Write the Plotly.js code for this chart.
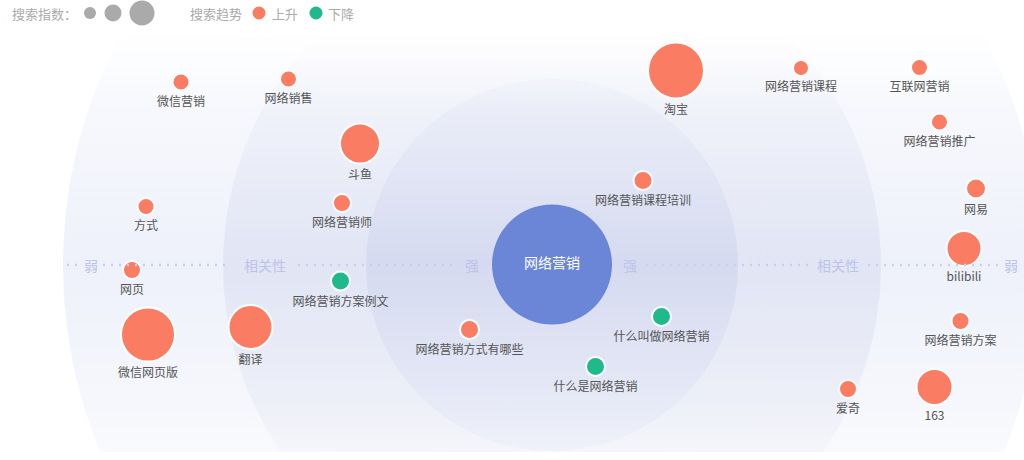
<!DOCTYPE html>
<html><head><meta charset="utf-8">
<script src="https://cdn.plot.ly/plotly-3.0.1.min.js"></script>
<style>html,body{margin:0;padding:0;background:#fff;}#chart{width:1024px;height:460px;}</style>
</head><body><div id="chart"></div>
<script>
// ---- data ----
const keywords = ['微信营销','网络销售','斗鱼','网络营销师','方式','网页','微信网页版','翻译','网络营销方案例文','网络营销方式有哪些','淘宝','网络营销课程培训','网络营销课程','互联网营销','网络营销推广','网易','bilibili','什么叫做网络营销','什么是网络营销','网络营销方案','爱奇','163'];
const posX = [181,288.5,360,342,146,132,148,250.5,340.5,469.5,676,643,801,919.5,939.5,976,964,661.5,595.5,960.5,848,934.5];
const posY = [82,79,143.5,203,206.5,270,334.5,327,281,329.5,70.5,180.5,68,67.5,122,188.5,248.5,316.5,366.5,321,389,387];
const searchIndex = [17,17,40,18,17,18,54,44,19,19,56,19,16,17,17,20,35,19,19,18,18,36];
const trend = ['up','up','up','up','up','up','up','up','down','up','up','up','up','up','up','up','up','down','down','up','up','up'];
const centerWord = '网络营销';
const centerX = 552, centerY = 264.5, centerSize = 120;
const ringRadii = [489, 329, 186];
const ringColors = [[238,241,250],[225,229,244],[213,218,240]];
const axisLabels = ['弱','相关性','强','强','相关性','弱'];
const axisLabelX = [91,265,472,630,838,1011];
const legendIndexSizes = [12,17,25];
const legendIndexX = [90,113,142];
const trendNames = ['上升','下降'];

const UP = '#fa7c62', DOWN = '#20b98c', CENTER = '#6b86d6';
const FONT = '"Noto Sans CJK SC","Microsoft YaHei",sans-serif';

const traces = [];
// rings (decoration)
const gy0 = 30, gy1 = 452;
function stop(y){return (y-gy0)/(gy1-gy0);}
const fadeStops = [[gy0,0],[60,0.15],[110,0.5],[265,1],[400,0.6],[gy1,0.35]];
ringRadii.forEach((r,i)=>{
  const xs=[],ys=[];
  for(let k=0;k<=240;k++){const a=2*Math.PI*k/240;xs.push(centerX+r*Math.cos(a));ys.push(Math.min(gy1,265+r*Math.sin(a)));}
  const c=ringColors[i];
  const cs=fadeStops.map(([y,f])=>[stop(y),'rgb('+c.map(v=>Math.round(255-f*(255-v))).join(',')+')']);
  traces.push({type:'scatter',mode:'lines',x:xs,y:ys,fill:'toself',line:{width:0},
    fillgradient:{type:'vertical',colorscale:cs,start:gy0,stop:gy1},hoverinfo:'skip',showlegend:false});
});
// dotted axis
const segs=[[67,80],[103,230],[298,458],[646,810],[868,1000]];
const shapes=segs.map(s=>({type:'line',x0:s[0],x1:s[1],y0:265,y1:265,line:{color:'#c8cdee',width:2.5,dash:'2px,6px'},layer:'above'}));
// center bubble
traces.push({type:'scatter',mode:'markers+text',x:[centerX],y:[centerY],text:[centerWord],textposition:'middle center',
  textfont:{family:FONT,size:14,color:'#ffffff'},marker:{size:[centerSize],color:CENTER,opacity:1,line:{width:0}},hoverinfo:'skip',showlegend:false});
// bubbles
traces.push({type:'scatter',mode:'markers',x:posX,y:posY,
  marker:{size:searchIndex,color:trend.map(t=>t==='up'?UP:DOWN),line:{color:'#ffffff',width:2},opacity:1},hoverinfo:'text',text:keywords,showlegend:false});
// labels
traces.push({type:'scatter',mode:'text',x:posX,y:posY.map((y,i)=>y+(searchIndex[i]+2)/2+11),text:keywords,textposition:'middle center',
  textfont:{family:FONT,size:12,color:'#555555'},hoverinfo:'skip',showlegend:false});
// legend dots
traces.push({type:'scatter',mode:'markers',x:legendIndexX.concat([259,316]),y:[13,13,13,13,13],
  marker:{size:legendIndexSizes.concat([13,13]),color:['#aaaaaa','#aaaaaa','#aaaaaa',UP,DOWN],opacity:1,line:{width:0}},hoverinfo:'skip',showlegend:false});

const annotations=[];
axisLabels.forEach((t,i)=>annotations.push({x:axisLabelX[i],y:265,text:t,showarrow:false,xanchor:'center',yanchor:'middle',font:{family:FONT,size:14,color:'#bcc4ea'}}));
annotations.push({x:10,y:13,text:'搜索指数：',showarrow:false,xanchor:'left',yanchor:'middle',font:{family:FONT,size:13,color:'#aaaaaa'}});
annotations.push({x:188,y:13,text:'搜索趋势',showarrow:false,xanchor:'left',yanchor:'middle',font:{family:FONT,size:13,color:'#aaaaaa'}});
annotations.push({x:270,y:13,text:trendNames[0],showarrow:false,xanchor:'left',yanchor:'middle',font:{family:FONT,size:13,color:'#aaaaaa'}});
annotations.push({x:326,y:13,text:trendNames[1],showarrow:false,xanchor:'left',yanchor:'middle',font:{family:FONT,size:13,color:'#aaaaaa'}});

const layout={width:1024,height:460,margin:{l:0,r:0,t:0,b:0},paper_bgcolor:'#ffffff',plot_bgcolor:'#ffffff',
  xaxis:{range:[0,1024],visible:false,fixedrange:true},
  yaxis:{range:[460,0],visible:false,fixedrange:true},
  shapes:shapes,annotations:annotations,showlegend:false,hovermode:'closest'};
Plotly.newPlot('chart',traces,layout,{displayModeBar:false,staticPlot:true});
</script></body></html>
